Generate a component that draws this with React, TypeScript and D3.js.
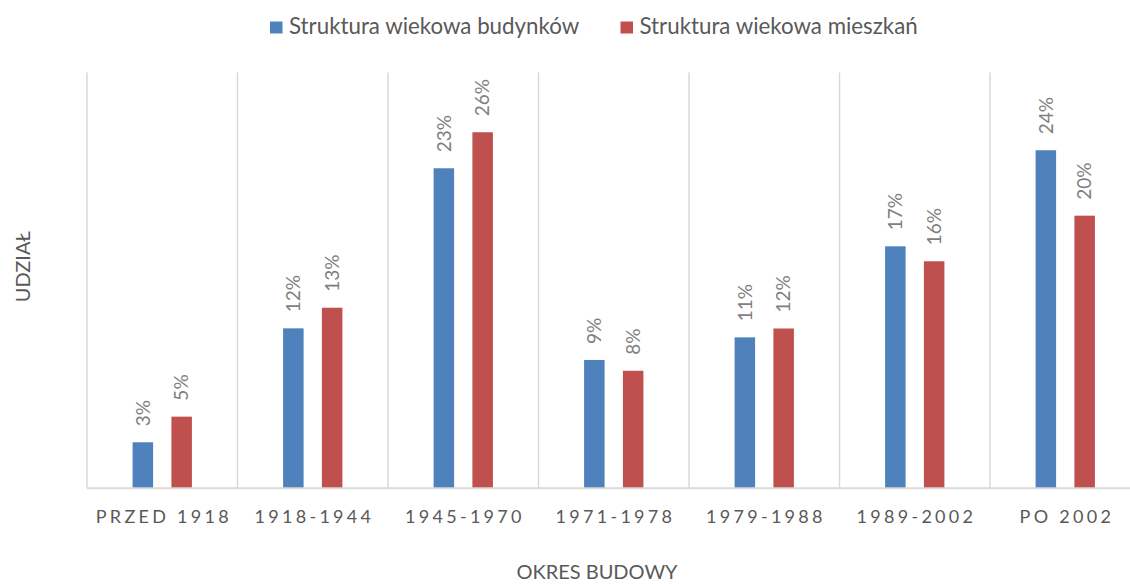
import React, { useEffect, useRef } from "react";
import * as d3 from "d3";

// categories (building periods)
const periods = ["PRZED 1918", "1918-1944", "1945-1970", "1971-1978", "1979-1988", "1989-2002", "PO 2002"];
// series names
const seriesNames = ["Struktura wiekowa budynków", "Struktura wiekowa mieszkań"];
// shares
const budynki = [0.0332, 0.1154, 0.2309, 0.0926, 0.1089, 0.1746, 0.2439];
const mieszkania = [0.0517, 0.1303, 0.2569, 0.0848, 0.1153, 0.1638, 0.1967];
const colors = ["#4f81bd", "#c0504d"];

const FONT = "Lato, 'Open Sans', sans-serif";

export default function App() {
  const ref = useRef<SVGSVGElement>(null);

  useEffect(() => {
    document.body.style.margin = "0";
    const width = 1130, height = 584;
    const margin = { top: 72.5, left: 87, right: 1140.5, bottom: 488.3 };

    const svg = d3.select(ref.current);
    svg.selectAll("*").remove();
    svg.attr("width", width).attr("height", height).style("display", "block");

    const x = d3.scaleBand<string>().domain(periods).range([margin.left, margin.right]).padding(0);
    const xs = d3.scaleBand<string>().domain(seriesNames).range([0, x.bandwidth()])
      .paddingInner(0.4716).paddingOuter(1.175);
    const y = d3.scaleLinear().domain([0, 0.3]).range([margin.bottom, margin.top]);

    // vertical gridlines between categories
    const bounds = periods.map(p => x(p)!).concat([margin.right]);
    svg.append("g").selectAll("line").data(bounds).enter().append("line")
      .attr("x1", d => d).attr("x2", d => d)
      .attr("y1", margin.top).attr("y2", margin.bottom)
      .attr("stroke", "#d9d9d9").attr("stroke-width", 1.5);

    // bars
    const rows = periods.map((p, i) => ({ period: p, values: [budynki[i], mieszkania[i]] }));
    const groups = svg.append("g").selectAll("g").data(rows).enter().append("g")
      .attr("transform", d => "translate(" + x(d.period) + ",0)");

    groups.selectAll("rect")
      .data(d => d.values.map((v, j) => ({ key: seriesNames[j], v, j })))
      .enter().append("rect")
      .attr("x", d => xs(d.key)!)
      .attr("y", d => y(d.v))
      .attr("width", xs.bandwidth())
      .attr("height", d => y(0) - y(d.v))
      .attr("fill", d => colors[d.j]);

    // data labels, rotated
    groups.selectAll("text")
      .data(d => d.values.map((v, j) => ({ key: seriesNames[j], v, j })))
      .enter().append("text")
      .attr("transform", d => "translate(" + (xs(d.key)! + xs.bandwidth() / 2) + "," + (y(d.v) - 16) + ") rotate(-90)")
      .attr("dy", "0.36em")
      .attr("font-family", FONT).attr("font-size", 19)
      .attr("fill", "#7f7f7f")
      .text(d => d3.format(".0%")(d.v));

    // x axis line
    svg.append("line")
      .attr("x1", margin.left).attr("x2", margin.right)
      .attr("y1", margin.bottom).attr("y2", margin.bottom)
      .attr("stroke", "#d9d9d9").attr("stroke-width", 2);

    // category labels
    svg.append("g").selectAll("text").data(periods).enter().append("text")
      .attr("x", d => x(d)! + x.bandwidth() / 2 + 1.65)
      .attr("y", 523.3)
      .attr("text-anchor", "middle")
      .attr("letter-spacing", 3.3)
      .attr("font-family", FONT).attr("font-size", 18)
      .attr("fill", "#595959")
      .text(d => d);

    // axis titles
    svg.append("text")
      .attr("transform", "translate(30,266.7) rotate(-90)")
      .attr("text-anchor", "middle")
      .attr("font-family", FONT).attr("font-size", 20)
      .attr("fill", "#595959")
      .text("UDZIAŁ");

    svg.append("text")
      .attr("x", 597).attr("y", 579)
      .attr("text-anchor", "middle")
      .attr("font-family", FONT).attr("font-size", 20)
      .attr("fill", "#595959")
      .text("OKRES BUDOWY");

    // legend
    const legendX = [270, 620.5];
    const legend = svg.append("g").selectAll("g").data(seriesNames).enter().append("g")
      .attr("transform", (d, i) => "translate(" + legendX[i] + ",0)");
    legend.append("rect")
      .attr("x", 0).attr("y", 21.5).attr("width", 12.5).attr("height", 12)
      .attr("fill", (d, i) => colors[i]);
    legend.append("text")
      .attr("x", 19).attr("y", 34)
      .attr("font-family", FONT).attr("font-size", 22.3)
      .attr("fill", "#595959")
      .text(d => d);
  }, []);

  return <svg ref={ref}></svg>;
}
